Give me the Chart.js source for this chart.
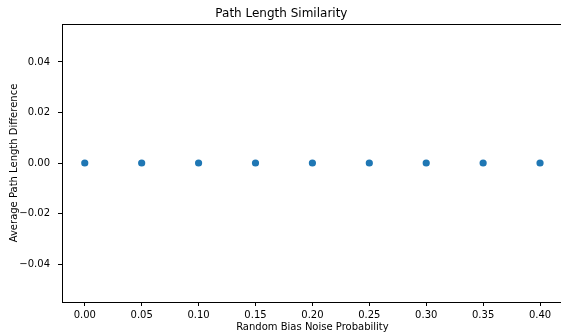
<!DOCTYPE html>
<html>
<head>
<meta charset="utf-8">
<script src="https://cdn.jsdelivr.net/npm/chart.js@4"></script>
<style>
html,body{margin:0;padding:0;background:#fff;overflow:hidden;width:561px;height:336px;}
#wrap{width:564px;height:336px;position:relative;}
#c{display:block;width:564px;height:336px;}
</style>
</head>
<body>
<div id="wrap"><canvas id="c" width="564" height="336"></canvas></div>
<script>
const noiseProbabilities = [0.00, 0.05, 0.10, 0.15, 0.20, 0.25, 0.30, 0.35, 0.40];
const pathLengthDiffs = [0, 0, 0, 0, 0, 0, 0, 0, 0];
const xTickValues = [0.00, 0.05, 0.10, 0.15, 0.20, 0.25, 0.30, 0.35, 0.40];
const yTickValues = [-0.04, -0.02, 0.00, 0.02, 0.04];

const FONT = "'DejaVu Sans', sans-serif";
const fmt = v => { const s = Math.abs(v).toFixed(2); return (v < -1e-9 ? '\u2212' : '') + s; };

const topSpine = {
  id: 'topSpine',
  afterDraw(chart) {
    const {ctx, chartArea: a} = chart;
    ctx.save();
    ctx.strokeStyle = '#000';
    ctx.lineWidth = 1;
    ctx.beginPath();
    ctx.moveTo(a.left, Math.round(a.top) + 0.5);
    ctx.lineTo(a.right, Math.round(a.top) + 0.5);
    ctx.stroke();
    ctx.restore();
  }
};

new Chart(document.getElementById('c'), {
  type: 'scatter',
  plugins: [topSpine],
  data: {
    datasets: [{
      data: noiseProbabilities.map((x, i) => ({x: x, y: pathLengthDiffs[i]})),
      backgroundColor: '#1f77b4',
      borderColor: '#1f77b4',
      pointRadius: 3.6,
      pointHoverRadius: 3.6,
      borderWidth: 0
    }]
  },
  options: {
    responsive: false,
    animation: false,
    devicePixelRatio: 1,
    layout: {autoPadding: false, padding: {left: 0, right: 1.2, top: 0, bottom: 0}},
    plugins: {
      legend: {display: false},
      tooltip: {enabled: false},
      title: {
        display: true,
        text: 'Path Length Similarity',
        color: '#000',
        font: {family: FONT, size: 12, weight: 'normal', lineHeight: 1.2},
        padding: {top: 7, bottom: 2.6}
      }
    },
    scales: {
      x: {
        type: 'linear',
        min: -0.02,
        max: 0.42,
        afterBuildTicks: s => { s.ticks = xTickValues.map(v => ({value: v})); },
        afterFit: s => { s.height = 34; },
        ticks: {
          color: '#000',
          font: {family: FONT, size: 10},
          padding: 3,
          maxRotation: 0,
          autoSkip: false,
          callback: v => fmt(v)
        },
        grid: {display: true, drawOnChartArea: false, drawTicks: true, tickLength: 4, tickColor: '#000', tickWidth: 1},
        border: {display: true, color: '#000', width: 1},
        title: {
          display: true,
          text: 'Random Bias Noise Probability',
          color: '#000',
          font: {family: FONT, size: 10, lineHeight: 1.2},
          padding: {top: 0, bottom: 3}
        }
      },
      y: {
        type: 'linear',
        min: -0.055,
        max: 0.055,
        afterBuildTicks: s => { s.ticks = yTickValues.map(v => ({value: v})); },
        afterFit: s => { s.width = 62; },
        ticks: {
          color: '#000',
          font: {family: FONT, size: 10},
          padding: 8,
          autoSkip: false,
          callback: v => fmt(v)
        },
        grid: {display: true, drawOnChartArea: false, drawTicks: true, tickLength: 4, tickColor: '#000', tickWidth: 1},
        border: {display: true, color: '#000', width: 1},
        title: {
          display: true,
          text: 'Average Path Length Difference',
          color: '#000',
          font: {family: FONT, size: 10, lineHeight: 1.2},
          padding: {top: 8, bottom: 0}
        }
      }
    }
  }
});
</script>
</body>
</html>
